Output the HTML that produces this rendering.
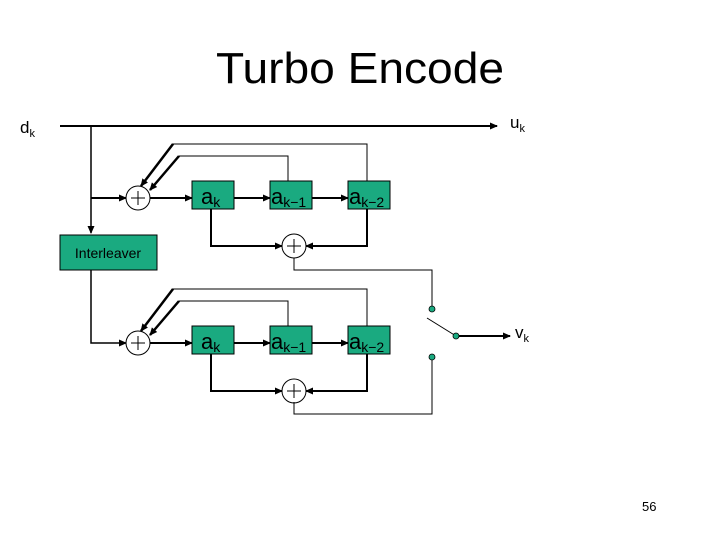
<!DOCTYPE html>
<html><head><meta charset="utf-8"><style>
html,body{margin:0;padding:0;background:#fff;}
svg{display:block;font-family:"Liberation Sans",sans-serif;}
</style></head><body>
<svg width="720" height="540" viewBox="0 0 720 540" xmlns="http://www.w3.org/2000/svg">
<defs>
<marker id="a" markerWidth="8" markerHeight="8" refX="7" refY="4" orient="auto" markerUnits="userSpaceOnUse">
<path d="M0,0.5 L8,4 L0,7.5 Z" fill="#000"/></marker>
</defs>
<rect width="720" height="540" fill="#fff"/>
<text x="360" y="83" font-size="44" text-anchor="middle" textLength="288" lengthAdjust="spacingAndGlyphs">Turbo Encode</text>
<text x="20" y="133" font-size="17">d<tspan font-size="11" dy="4">k</tspan></text>
<text x="510" y="128" font-size="17">u<tspan font-size="11" dy="4">k</tspan></text>
<line x1="60" y1="126" x2="497" y2="126" stroke="#000" stroke-width="2" marker-end="url(#a)"/>
<g stroke="#000" fill="none">
<line x1="91" y1="126" x2="91" y2="233" stroke-width="1.5" marker-end="url(#a)"/>
<polyline points="91,198 126,198" stroke-width="2" marker-end="url(#a)"/>
<polyline points="91,270 91,343 126,343" stroke-width="1.5" marker-end="url(#a)"/>
</g>
<rect x="60" y="235" width="97" height="35" fill="#1aaa80" stroke="#000"/>
<text x="108" y="258" font-size="14" text-anchor="middle">Interleaver</text>
<g id="enc">
<g stroke="#000" fill="none">
<polyline points="367,181 367,144 173,144 141,186" stroke-width="1"/>
<line x1="173" y1="144" x2="141" y2="186" stroke-width="2.5" marker-end="url(#a)"/>
<polyline points="288,181 288,156 179,156" stroke-width="1"/>
<line x1="179" y1="156" x2="150" y2="190" stroke-width="2.5" marker-end="url(#a)"/>
<line x1="150" y1="198" x2="192" y2="198" stroke-width="2" marker-end="url(#a)"/>
<line x1="234" y1="198" x2="270" y2="198" stroke-width="2" marker-end="url(#a)"/>
<line x1="312" y1="198" x2="348" y2="198" stroke-width="2" marker-end="url(#a)"/>
<polyline points="211,209 211,246 282,246" stroke-width="2" marker-end="url(#a)"/>
<polyline points="367,209 367,246 306,246" stroke-width="2" marker-end="url(#a)"/>
<circle cx="138" cy="198" r="12" stroke-width="1" fill="#fff"/>
<circle cx="294" cy="246" r="12" stroke-width="1" fill="#fff"/>
<path d="M131,198 h14 M138,191 v14 M287,246 h14 M294,239 v14" stroke-width="1"/>
</g>
<rect x="192" y="181" width="42" height="28" fill="#1aaa80" stroke="#000"/>
<rect x="270" y="181" width="42" height="28" fill="#1aaa80" stroke="#000"/>
<rect x="348" y="181" width="42" height="28" fill="#1aaa80" stroke="#000"/>
<text x="201" y="204" font-size="22">a<tspan font-size="14" dy="3">k</tspan></text>
<text x="271" y="204" font-size="22">a<tspan font-size="14" dy="3">k−1</tspan></text>
<text x="349" y="204" font-size="22">a<tspan font-size="14" dy="3">k−2</tspan></text>
</g>
<use href="#enc" y="145"/>
<g stroke="#000" fill="none" stroke-width="1">
<polyline points="294,258 294,270 432,270 432,309"/>
<polyline points="294,402 294,414 432,414 432,357"/>
<line x1="427" y1="318" x2="456" y2="336"/>
<line x1="456" y1="336" x2="510" y2="336" stroke-width="2" marker-end="url(#a)"/>
</g>
<g fill="#1aaa80" stroke="#000" stroke-width="0.8">
<circle cx="432" cy="309" r="3"/><circle cx="432" cy="357" r="3"/><circle cx="456" cy="336" r="3"/>
</g>
<text x="515" y="338" font-size="17">v<tspan font-size="11" dy="4">k</tspan></text>
<text x="642" y="511" font-size="13">56</text>
</svg>
</body></html>
